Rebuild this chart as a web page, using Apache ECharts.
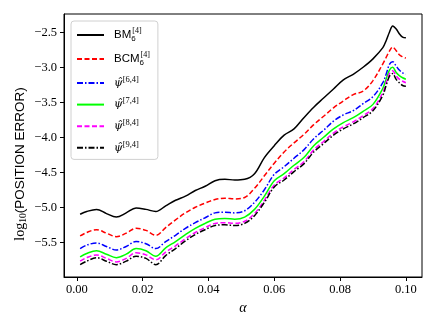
<!DOCTYPE html>
<html><head><meta charset="utf-8">
<script src="https://cdn.jsdelivr.net/npm/echarts@6/dist/echarts.min.js"></script>
<style>html,body{margin:0;padding:0;background:#fff}#c{width:436px;height:327px}</style>
</head><body><div id="c"></div>
<script>
const alpha = [0.001,0.003,0.006,0.009,0.012,0.015,0.018,0.021,0.024,0.027,0.030,0.033,0.036,0.039,0.042,0.045,0.048,0.051,0.054,0.057,0.060,0.063,0.066,0.069,0.072,0.075,0.078,0.081,0.084,0.087,0.090,0.093,0.094,0.095,0.096,0.097,0.098,0.099,0.100];
const bm  = [-5.10,-5.06,-5.03,-5.09,-5.14,-5.08,-5.01,-5.03,-5.06,-4.98,-4.90,-4.84,-4.76,-4.70,-4.62,-4.60,-4.61,-4.60,-4.52,-4.29,-4.12,-3.97,-3.88,-3.72,-3.57,-3.44,-3.31,-3.18,-3.10,-3.00,-2.88,-2.72,-2.62,-2.50,-2.41,-2.45,-2.52,-2.57,-2.58];
const bcm = [-5.41,-5.36,-5.32,-5.37,-5.42,-5.37,-5.30,-5.33,-5.40,-5.29,-5.18,-5.08,-5.00,-4.94,-4.89,-4.87,-4.88,-4.86,-4.73,-4.55,-4.37,-4.21,-4.08,-3.96,-3.82,-3.70,-3.58,-3.48,-3.39,-3.34,-3.19,-2.95,-2.86,-2.77,-2.71,-2.76,-2.82,-2.85,-2.87];
const psi64 = [-5.59,-5.54,-5.51,-5.56,-5.61,-5.56,-5.49,-5.52,-5.59,-5.49,-5.40,-5.30,-5.22,-5.15,-5.08,-5.07,-5.08,-5.05,-4.93,-4.75,-4.53,-4.42,-4.30,-4.18,-4.02,-3.90,-3.77,-3.68,-3.62,-3.52,-3.42,-3.22,-3.10,-2.96,-2.92,-2.98,-3.04,-3.08,-3.10];
const psi74 = [-5.71,-5.66,-5.62,-5.67,-5.72,-5.67,-5.59,-5.62,-5.70,-5.58,-5.49,-5.39,-5.30,-5.23,-5.17,-5.16,-5.17,-5.14,-5.03,-4.84,-4.62,-4.52,-4.40,-4.29,-4.12,-4.00,-3.88,-3.79,-3.72,-3.63,-3.53,-3.30,-3.17,-3.04,-3.00,-3.07,-3.12,-3.15,-3.17];
const psi84 = [-5.77,-5.72,-5.68,-5.73,-5.78,-5.73,-5.65,-5.68,-5.75,-5.64,-5.55,-5.45,-5.36,-5.29,-5.23,-5.22,-5.23,-5.20,-5.09,-4.90,-4.68,-4.58,-4.46,-4.35,-4.18,-4.06,-3.94,-3.85,-3.78,-3.69,-3.59,-3.36,-3.22,-3.09,-3.05,-3.12,-3.17,-3.20,-3.22];
const psi94 = [-5.82,-5.77,-5.72,-5.77,-5.82,-5.77,-5.70,-5.73,-5.82,-5.69,-5.59,-5.48,-5.39,-5.32,-5.26,-5.25,-5.26,-5.23,-5.12,-4.93,-4.71,-4.61,-4.49,-4.38,-4.21,-4.09,-3.97,-3.88,-3.81,-3.72,-3.62,-3.40,-3.26,-3.13,-3.09,-3.17,-3.22,-3.26,-3.27];
const xTicks = [0.00,0.02,0.04,0.06,0.08,0.10];
const yTicks = [-5.5,-5.0,-4.5,-4.0,-3.5,-3.0,-2.5];

const pair = ys => alpha.map((a,i)=>[a,ys[i]]);
const mk = (name, ys, color, type) => ({
  name, type:'line', data: pair(ys), showSymbol:false, symbol:'none', smooth:0.35,
  lineStyle:{color, width:1.5, type}, itemStyle:{color}
});
const dashed=[5,2.5], dashdot=[6,2,1.5,2];
const labels = {
  BM:'{s|BM}{sb|6}{sp|[4]}',
  BCM:'{s|BCM}{sb|6}{sp|[4]}',
  p6:'{g|ψ̂}{sp2|[6,4]}',
  p7:'{g|ψ̂}{sp2|[7,4]}',
  p8:'{g|ψ̂}{sp2|[8,4]}',
  p9:'{g|ψ̂}{sp2|[9,4]}'
};
const chart = echarts.init(document.getElementById('c'), null, {renderer:'canvas'});
chart.setOption({
  animation:false,
  grid:{left:64, top:14, right:14, bottom:50, show:true, borderColor:'#000', borderWidth:1, backgroundColor:'transparent'},
  xAxis:{type:'value', min:-0.0039, max:0.1049,
    name:'α', nameLocation:'middle', nameGap:10,
    nameTextStyle:{fontFamily:'Liberation Serif', fontStyle:'italic', fontSize:14, color:'#000'},
    axisLine:{onZero:false, lineStyle:{color:'#000'}},
    axisTick:{show:true, length:4, lineStyle:{color:'#000'}, customValues:xTicks},
    axisLabel:{customValues:xTicks, margin:6, fontFamily:'Liberation Serif', fontSize:12.5, color:'#000', formatter:v=>v.toFixed(2)},
    splitLine:{show:false}},
  yAxis:{type:'value', min:-5.996, max:-2.239,
    axisLine:{show:true, onZero:false, lineStyle:{color:'#000'}},
    axisTick:{show:true, length:4, lineStyle:{color:'#000'}, customValues:yTicks},
    axisLabel:{customValues:yTicks, margin:7, fontFamily:'Liberation Serif', fontSize:12.5, color:'#000', formatter:v=>v.toFixed(1).replace('-','−')},
    splitLine:{show:false}},
  legend:{left:71, top:21, orient:'vertical', itemWidth:27, itemHeight:14, itemGap:8,
    itemStyle:{opacity:0, borderWidth:0},
    padding:[6,8,6,5], borderColor:'#d0d0d0', borderWidth:1, borderRadius:3, backgroundColor:'rgba(255,255,255,0.85)',
    formatter:n=>labels[n],
    textStyle:{padding:[0,0,0,5], height:16, rich:{
      s:{fontFamily:'Liberation Sans', fontSize:11.5, color:'#000'},
      sb:{fontFamily:'Liberation Sans', fontSize:8, color:'#000', padding:[8,0,0,0], width:1},
      sp:{fontFamily:'Liberation Serif', fontSize:8, color:'#000', padding:[0,0,8,0]},
      g:{fontFamily:'DejaVu Serif', fontStyle:'italic', fontSize:11, color:'#000'},
      sp2:{fontFamily:'Liberation Serif', fontSize:8.5, color:'#000', padding:[0,0,7,0]}
    }}},
  graphic:[{type:'text', x:20, y:164, rotation:Math.PI/2,
    style:{text:'{a|log}{b|10}{c|(POSITION ERROR)}', align:'center', verticalAlign:'middle',
      rich:{a:{fontFamily:'Liberation Serif', fontSize:14, fill:'#000'},
            b:{fontFamily:'Liberation Serif', fontSize:9.5, fill:'#000', padding:[6,0,0,0]},
            c:{fontFamily:'Liberation Sans', fontSize:13.5, fill:'#000'}}}}],
  series:[
    mk('BM', bm, '#000000', 'solid'),
    mk('BCM', bcm, '#ff0000', dashed),
    mk('p6', psi64, '#0000ff', dashdot),
    mk('p7', psi74, '#00ff00', 'solid'),
    mk('p8', psi84, '#ff00ff', dashed),
    mk('p9', psi94, '#000000', dashdot)
  ]
});
</script></body></html>
